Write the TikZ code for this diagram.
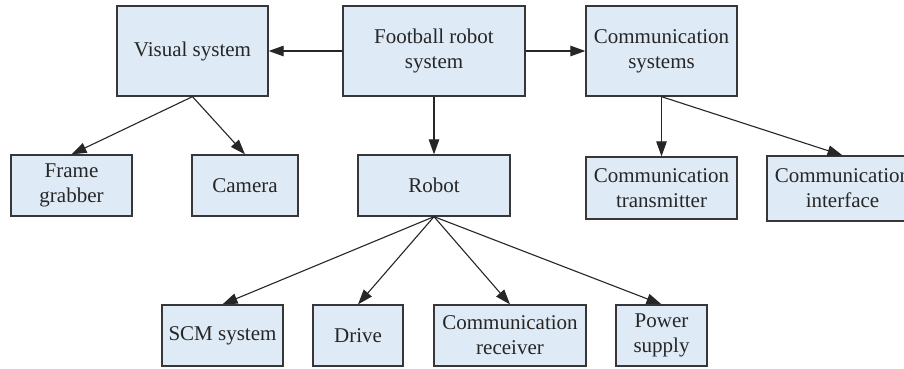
\documentclass[tikz,border=0pt]{standalone}
\usepackage{fontspec}
\setmainfont{Liberation Serif}
\usetikzlibrary{arrows.meta}
\definecolor{boxfill}{RGB}{222,234,245}
\definecolor{boxline}{RGB}{55,55,55}
\tikzset{
  unit/.style={draw=boxline, line width=1.3pt, fill=boxfill, rectangle,
    inner sep=0pt, align=center, text=black!85,
    font=\fontsize{21}{25}\selectfont},
  link/.style={draw=black!85, line width=1.1pt,
    -{Triangle[length=15pt,width=10.5pt]}}
}
\begin{document}
\begin{tikzpicture}[x=1pt,y=-1pt]
  \useasboundingbox (0,0) rectangle (904,368);
  \fill[white] (0,0) rectangle (904,368);
  \clip (0,0) rectangle (904,368);

  % top level
  \node[unit, minimum width=151pt, minimum height=90pt] (vis) at (192.5,51) {Visual system};
  \node[unit, minimum width=182pt, minimum height=90pt] (fb)  at (434,51)   {Football robot\\system};
  \node[unit, minimum width=151pt, minimum height=90pt] (cs)  at (661.5,51) {Communication\\systems};

  % second level
  \node[unit, minimum width=121pt, minimum height=61pt] (fg)  at (71.5,185.5) {Frame\\grabber};
  \node[unit, minimum width=106pt, minimum height=61pt] (cam) at (245,185.5)  {Camera};
  \node[unit, minimum width=152pt, minimum height=61pt] (rob) at (434,185.5)  {Robot};
  \node[unit, minimum width=151pt, minimum height=62pt] (ct)  at (661.5,188)  {Communication\\transmitter};
  \node[unit, minimum width=151pt, minimum height=65pt] (ci)  at (842.5,188.5) {Communication\\interface};

  % robot parts
  \node[unit, minimum width=121pt, minimum height=61pt] (scm) at (222.5,335.5) {SCM system};
  \node[unit, minimum width=90pt,  minimum height=61pt] (drv) at (358,335.5)   {Drive};
  \node[unit, minimum width=152pt, minimum height=61pt] (rcv) at (510,335.5)   {Communication\\receiver};
  \node[unit, minimum width=91pt,  minimum height=61pt] (pwr) at (661.5,335.5) {Power\\supply};

  % connectors
  \draw[link] (fb.west)  -- (vis.east);
  \draw[link] (fb.east)  -- (cs.west);
  \draw[link] (fb.south) -- (rob.north);
  \draw[link] (vis.south) -- (fg.north);
  \draw[link] (vis.south) -- (cam.north);
  \draw[link] (cs.south) -- (ct.north);
  \draw[link] (cs.south) -- (ci.north);
  \draw[link] (rob.south) -- (scm.north);
  \draw[link] (rob.south) -- (drv.north);
  \draw[link] (rob.south) -- (rcv.north);
  \draw[link] (rob.south) -- (pwr.north);
\end{tikzpicture}
\end{document}
